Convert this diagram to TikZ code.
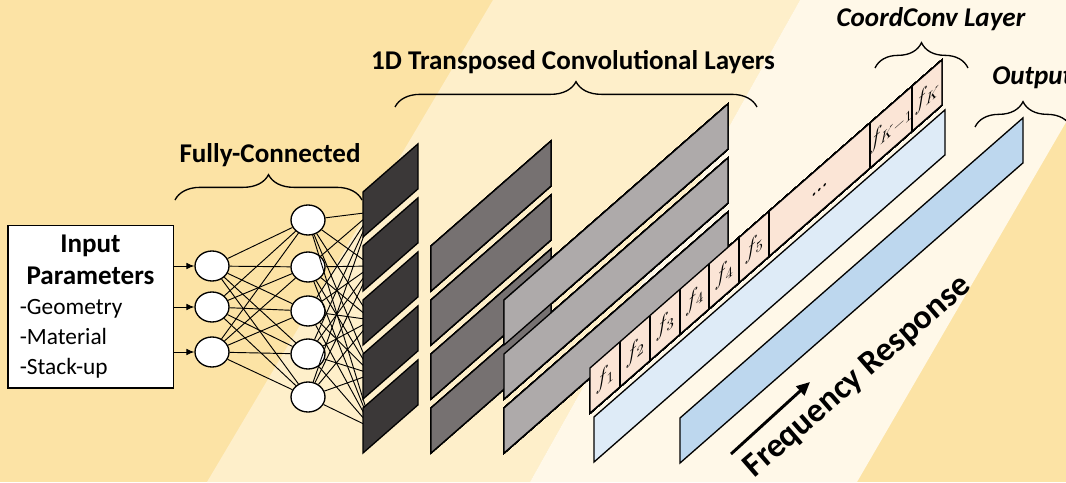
\documentclass[tikz,border=0pt]{standalone}
\usepackage{fontspec}
\setmainfont{Carlito}
\usetikzlibrary{shapes.geometric,decorations.pathreplacing,arrows.meta}

\begin{document}
\begin{tikzpicture}[x=0.75pt,y=-0.75pt,font=\fontsize{17.5}{22.5}\selectfont]
  \definecolor{gold}{HTML}{FCE3A5}
  \definecolor{sand}{HTML}{FEEFCA}
  \definecolor{cream}{HTML}{FFF8E8}
  \definecolor{coal}{HTML}{3B3838}
  \definecolor{slate}{HTML}{767171}
  \definecolor{ash}{HTML}{AEAAAA}
  \definecolor{peach}{HTML}{FBE5D6}
  \definecolor{ice}{HTML}{DEEBF7}
  \definecolor{sky}{HTML}{BDD7EE}
  \def\h{45}
  \def\k{0.875}
  \useasboundingbox (0,0) rectangle (1066,482);
  % Diagonal bands behind everything.
  \begin{scope}
    \clip (0,0) rectangle (1066,482);
    \fill[gold] (0,0) rectangle (1066,482);
    \fill[sand] (207,482) -- (493,0) -- (800,0) -- (530,482) -- cycle;
    \fill[cream] (530,482) -- (800,0) -- (1137,0) -- (857,482) -- cycle;
  \end{scope}

  \tikzset{
    neuron/.style={ellipse,draw,fill=white,line width=1pt,minimum width=25.5pt,minimum height=22.5pt,inner sep=0pt},
    wire/.style={line width=.7pt},
    slab/.style={draw,line width=1pt},
    curly/.style={decorate,decoration={brace,amplitude=19pt},line width=1pt},
    title/.style={font=\fontsize{20.3}{24}\selectfont\bfseries},
    cell/.style={yslant=\k,inner sep=0pt,font=\fontsize{16}{16}\selectfont},
  }
  \def\slab#1#2#3#4{\filldraw[slab,fill=#4] (#1,#2) -- ++(#3,-\k*#3) -- ++(0,\h) -- ++(-#3,\k*#3) -- cycle;}

  \node[draw,fill=white,line width=1pt,minimum width=124pt,minimum height=122pt,
    text width=106pt,align=left,inner sep=0pt] (inp) at (90.5,306.5)
    {\makebox[106pt]{\fontsize{20.3}{24}\selectfont\bfseries Input}\\[1.5pt]
     \makebox[106pt]{\fontsize{20.3}{24}\selectfont\bfseries Parameters}\\-Geometry\\-Material\\-Stack-up};

  \foreach \y [count=\i] in {266,307,352}
    \node[neuron] (in\i) at (212,\y) {};
  \foreach \y [count=\i] in {220,267,311,354,397}
    \node[neuron] (h\i) at (308,\y) {};
  \foreach \t [count=\i] in {192,246,300,354,408}
    \coordinate (d\i) at (372,\t+20);

  \foreach \i in {1,2,3}
    \draw[wire,-{Latex[length=6pt,width=5pt]}] (inp.east |- in\i) -- (in\i);
  \foreach \a in {1,2,3}
    \foreach \b in {1,...,5}
      \draw[wire] (in\a) -- (h\b);
  \foreach \a in {1,...,5}
    \foreach \b in {1,...,5}
      \draw[wire] (h\a) -- (d\b);

  % Transposed conv stacks, then the coord and output strips.
  \foreach \t in {192,246,300,354,408} \slab{363}{\t}{55}{coal}
  \foreach \t in {246,300,354,408} \slab{431}{\t}{120}{slate}
  \foreach \t in {300,354,408} \slab{504}{\t}{224}{ash}
  \slab{590}{368}{352}{peach}
  \foreach \u in {30,60,90,119,149,179,280,322}
    \draw[line width=1pt] (590+\u,368-\k*\u) -- ++(0,\h);
  \foreach \u/\lab [count=\i] in {15/$f_1$,45/$f_2$,75/$f_3$,104.5/$f_4$,134/$f_4$,164/$f_5$,229.5/\ldots,301/$f_{K-1}$,337/$f_K$}
    \node[cell] (c\i) at (590+\u,368-\k*\u+22.5) {\lab};
  \slab{594}{417}{351}{ice}
  \slab{680}{418}{343}{sky}

  \coordinate (fcL) at (175,200);
  \coordinate (fcR) at (362,200);
  \draw[curly] (fcL) -- (fcR);
  \node[title] (fct) at (270,155) {Fully-Connected};

  \coordinate (tcL) at (395,107);
  \coordinate (tcR) at (757,107);
  \draw[curly] (tcL) -- (tcR);
  \node[title] (tct) at (573,62) {1D Transposed Convolutional Layers};

  \coordinate (ccL) at (875,68);
  \coordinate (ccR) at (968,68);
  \draw[curly] (ccL) -- (ccR);
  \node[title,font=\fontsize{20.3}{24}\selectfont\bfseries\itshape] (cct) at (931,19) {CoordConv Layer};

  \coordinate (otL) at (975,127);
  \coordinate (otR) at (1071,127);
  \draw[curly] (otL) -- (otR);
  \node[title,font=\fontsize{20.3}{24}\selectfont\bfseries\itshape,anchor=west,inner sep=0pt] (ott) at (992,78) {Output};

  \coordinate (fa) at (731,454);
  \coordinate (fb) at (810,382);
  \draw[-{Triangle[length=10pt,width=9pt]},line width=2.2pt] (fa) -- (fb);
  \node[rotate=41,font=\fontsize{25.5}{28}\selectfont\bfseries] (freq) at (858,377) {Frequency Response};
\end{tikzpicture}
\end{document}
